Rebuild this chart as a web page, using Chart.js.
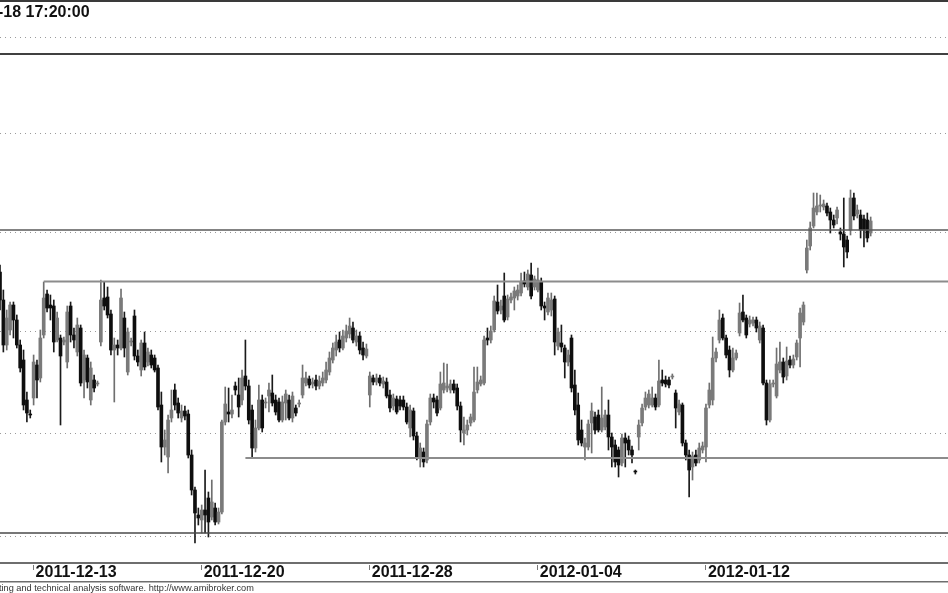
<!DOCTYPE html>
<html>
<head>
<meta charset="utf-8">
<script src="https://cdn.jsdelivr.net/npm/chart.js@4.4.1/dist/chart.umd.min.js"></script>
<style>
  html, body { margin: 0; padding: 0; background: #fff; }
  canvas { display: block; }
</style>
</head>
<body>
<canvas id="priceChart" width="948" height="593"></canvas>
<script>
// trading days (last three are empty future slots on the right)
const tradingDays = [
  '2011-12-12', '2011-12-13', '2011-12-14', '2011-12-15', '2011-12-16',
  '2011-12-19', '2011-12-20', '2011-12-21', '2011-12-22', '2011-12-23',
  '2011-12-27', '2011-12-28', '2011-12-29', '2011-12-30',
  '2012-01-02', '2012-01-03', '2012-01-04', '2012-01-05',
  '2012-01-09', '2012-01-10', '2012-01-11', '2012-01-12', '2012-01-13',
  '2012-01-16', '2012-01-17', '2012-01-18',
  '2012-01-19', '2012-01-20', '2012-01-23'
];
const sessionTimes = ['09:00', '10:00', '11:00', '12:00', '13:00', '14:00', '15:00', '16:00', '17:00', '17:20'];
const slotCount = 283;

const axisDates = ['2011-12-13', '2011-12-20', '2011-12-28', '2012-01-04', '2012-01-12'];
const titleText = '-18 17:20:00';
const footerText = 'ting and technical analysis software. http://www.amibroker.com';

// one row per trading day
const opens = [
  2334, 2320, 2297.5, 2305, 2317.5, 2310, 2297.5, 2290, 2270, 2263,
  2271, 2287.5, 2281, 2302.5, 2323, 2317.5, 2317, 2300, 2301, 2299,
  2289, 2317, 2302.5, 2294, 2306, 2280, 2291, 2270, 2280, 2278,
  2299, 2321, 2321.5, 2313, 2295, 2297.5, 2296, 2311, 2284, 2299,
  2312, 2292, 2285, 2298.5, 2289, 2292.5, 2291, 2286, 2267.5, 2246.5,
  2241.5, 2261, 2275, 2268.5, 2261, 2264.5, 2263, 2242.5, 2225, 2212.5,
  2210, 2215, 2221, 2211.5, 2216, 2209, 2214, 2259, 2264, 2263,
  2277, 2272.5, 2270, 2282, 2277, 2265, 2246, 2256, 2270, 2268.5,
  2272, 2273.5, 2270, 2269, 2260, 2268.5, 2270, 2261, 2266, 2268,
  2272.5, 2278.5, 2280.5, 2278, 2280, 2277, 2278.5, 2280, 2284, 2290,
  2295, 2300, 2296, 2301, 2303, 2306, 2299, 2302, 2296, 2292,
  2272.5, 2281, 2279, 2281, 2278, 2279, 2272.5, 2267, 2270.5, 2270,
  2270, 2266.5, 2256, 2264.5, 2252, 2241, 2244, 2240, 2259, 2271,
  2270, 2266, 2275, 2276, 2275, 2278, 2276, 2267, 2253.5, 2255,
  2258.5, 2260, 2275, 2278, 2278.5, 2301, 2300, 2305, 2319, 2315,
  2322, 2311.5, 2320, 2321, 2322, 2323.5, 2329.5, 2326.5, 2332.5, 2326.5,
  2325, 2329, 2317, 2314, 2315, 2320.5, 2297, 2298.5, 2296, 2289,
  2301, 2277.5, 2267.5, 2255, 2246.5, 2246.5, 2258.5, 2261.5, 2262.5, 2255,
  2256.5, 2262.5, 2251.5, 2247.5, 2245, 2238.5, 2251, 2250, 2245, 2234.5,
  2251.5, 2258.5, 2266.5, 2267.5, 2267.5, 2271, 2267.5, 2280, 2280, 2280,
  2281.5, 2273.5, 2264, 2267.5, 2248.5, 2242.5, 2236.5, 2242.5, 2240, 2245,
  2246.5, 2267.5, 2270, 2291, 2300, 2311, 2301, 2295, 2285, 2291,
  2303.5, 2314, 2311, 2308, 2308.5, 2310, 2300, 2306, 2278.5, 2260,
  2278, 2272, 2285, 2289, 2282, 2290, 2287.5, 2291.5, 2301, 2309,
  2335, 2347, 2357, 2364, 2367, 2366.5, 2367, 2364, 2360, 2361,
  2354, 2353, 2350, 2355, 2371, 2363, 2362.5, 2360.5, 2360, 2353.5
];
const highs = [
  2337.5, 2325, 2315, 2319, 2319, 2312.5, 2300, 2295, 2274, 2265,
  2292.5, 2290, 2305, 2329, 2325, 2322.5, 2320, 2314, 2302.5, 2301.5,
  2317, 2319, 2306, 2311, 2307.5, 2295, 2292.5, 2289, 2282.5, 2279.5,
  2330, 2329, 2326.5, 2315, 2301, 2300, 2325.5, 2314, 2306, 2301,
  2315, 2295, 2300, 2304, 2296, 2295, 2292.5, 2287.5, 2274, 2255,
  2262.5, 2275, 2278, 2271, 2267.5, 2267, 2265, 2245, 2226.5, 2216,
  2217.5, 2235, 2224, 2230, 2218.5, 2216, 2260, 2276.5, 2276, 2272.5,
  2279, 2281, 2285, 2300, 2280, 2267.5, 2260, 2277.5, 2272.5, 2271,
  2278.5, 2282.5, 2272.5, 2271, 2272, 2275, 2272.5, 2274, 2267.5, 2270,
  2287.5, 2284, 2282, 2281, 2282.5, 2282, 2284, 2289, 2294, 2298.5,
  2302.5, 2304, 2305, 2307.5, 2311, 2309, 2305, 2304, 2299, 2298,
  2284, 2282.5, 2283, 2282.5, 2281.5, 2281, 2275, 2273, 2272, 2272,
  2272, 2268.5, 2267.5, 2266, 2254, 2248.5, 2246, 2260, 2273, 2273,
  2272, 2284, 2288.5, 2288, 2280, 2280, 2278, 2269, 2261.5, 2260,
  2263, 2286.5, 2286.5, 2282, 2302, 2306, 2307, 2322, 2327.5, 2320,
  2333.5, 2322.5, 2323.5, 2326.5, 2327.5, 2333.5, 2334, 2335, 2338.5, 2332,
  2336, 2331, 2319, 2323.5, 2323.5, 2322, 2306, 2307.5, 2297.5, 2295,
  2302.5, 2285, 2273.5, 2260, 2251, 2260, 2268.5, 2264, 2265, 2276.5,
  2265, 2270, 2253.5, 2250, 2246.5, 2253, 2253.5, 2252, 2247, 2235,
  2260, 2268, 2274, 2275, 2276.5, 2273, 2290, 2285, 2282, 2281.5,
  2283, 2275, 2270, 2268.5, 2250, 2245, 2244, 2245, 2248.5, 2249,
  2268, 2278.5, 2301.5, 2296, 2315, 2313, 2302.5, 2297, 2296, 2295,
  2318.5, 2322.5, 2312.5, 2312, 2311.5, 2311.5, 2309, 2307.5, 2280, 2280,
  2280, 2296, 2299, 2291, 2296.5, 2292, 2292.5, 2300, 2316, 2319,
  2350, 2359, 2373.5, 2373.5, 2372.5, 2370, 2368.5, 2366, 2362.5, 2366.5,
  2356, 2371, 2352, 2375, 2373.5, 2367.5, 2365, 2362.5, 2363.5, 2361.5
];
const lows = [
  2315, 2294, 2295, 2302.5, 2301, 2296, 2284, 2265, 2259, 2261,
  2267.5, 2271, 2279, 2301, 2314, 2310, 2294, 2299, 2257.5, 2297.5,
  2286, 2299, 2296, 2292, 2277, 2271, 2276, 2267.5, 2274, 2277,
  2297, 2315, 2311, 2292.5, 2269, 2292.5, 2295, 2291.5, 2282.5, 2297,
  2290, 2287, 2282, 2285, 2287, 2286, 2284, 2265, 2239, 2242.5,
  2233.5, 2259, 2265, 2261, 2259, 2260, 2241, 2222.5, 2198.5, 2207.5,
  2203.5, 2203.5, 2201.5, 2210, 2207.5, 2208, 2213, 2257.5, 2259, 2261,
  2272.5, 2261.5, 2267.5, 2275, 2258, 2241, 2244, 2255, 2254, 2266,
  2264, 2267, 2262.5, 2259, 2259, 2260, 2260, 2259, 2262, 2266.5,
  2271, 2277, 2276, 2276, 2275, 2275.5, 2277, 2278.5, 2282.5, 2288.5,
  2292, 2294, 2295, 2299, 2301, 2298.5, 2297, 2293, 2290, 2291,
  2266.5, 2277.5, 2277.5, 2277, 2276, 2271, 2264, 2265, 2263, 2265,
  2265, 2258, 2251.5, 2250, 2240, 2236.5, 2236.5, 2238.5, 2257.5, 2266,
  2262, 2265, 2273.5, 2274, 2273.5, 2273.5, 2265, 2249, 2247.5, 2252.5,
  2257, 2259, 2273.5, 2277, 2277.5, 2297.5, 2298.5, 2304, 2313, 2313,
  2309, 2310, 2318.5, 2315, 2320, 2322, 2326.5, 2325, 2320.5, 2325,
  2324, 2315, 2310, 2312.5, 2312, 2292.5, 2295, 2294, 2281, 2287,
  2274, 2262.5, 2247.5, 2247, 2240, 2245, 2243.5, 2253, 2254, 2254,
  2255, 2245, 2236.5, 2236.5, 2231.5, 2237, 2236.5, 2242.5, 2238.5, 2233,
  2245, 2257, 2265, 2266, 2266.5, 2265, 2266.5, 2277, 2276.5, 2276,
  2280.5, 2256, 2262.5, 2247, 2240, 2221.5, 2230, 2237, 2238.5, 2243.5,
  2239, 2266, 2267.5, 2289, 2298.5, 2300, 2291, 2281.5, 2284, 2290,
  2302, 2309, 2301, 2306.5, 2307, 2304, 2298.5, 2277.5, 2257.5, 2259,
  2276.5, 2271, 2283.5, 2278.5, 2280, 2286, 2286, 2290, 2286.5, 2307.5,
  2333.5, 2345, 2356, 2362.5, 2364, 2365, 2362, 2353.5, 2356, 2358,
  2350, 2336.5, 2341, 2352.5, 2360, 2361, 2351, 2346.5, 2349, 2352
];
const closes = [
  2320, 2297.5, 2311, 2317.5, 2310, 2297.5, 2286, 2267.5, 2263.5, 2262.5,
  2289, 2280, 2301, 2321, 2316, 2316, 2299, 2311, 2292, 2300,
  2314, 2302.5, 2300, 2307.5, 2278.5, 2292.5, 2279, 2286, 2276, 2278.5,
  2320, 2317, 2312.5, 2295, 2297.5, 2296, 2321, 2296, 2304, 2299.5,
  2292, 2289, 2298.5, 2286.5, 2294, 2287.5, 2285, 2266.5, 2246.5, 2250,
  2260, 2265, 2267.5, 2263.5, 2264.5, 2262, 2242.5, 2225, 2213.5, 2211,
  2215, 2212.5, 2209, 2219, 2209, 2214, 2259, 2268, 2263, 2265,
  2275, 2266.5, 2281, 2277, 2260, 2246, 2256, 2270, 2256, 2269,
  2275, 2268.5, 2264, 2260, 2269, 2273, 2261, 2272, 2263.5, 2268.5,
  2281, 2281, 2277.5, 2279, 2277, 2279.5, 2281, 2285, 2291, 2296,
  2299, 2296, 2302, 2304.5, 2307, 2300, 2302, 2295, 2292.5, 2295.5,
  2282, 2279, 2281, 2278.5, 2279.5, 2272, 2266, 2271, 2264, 2267,
  2266.5, 2259, 2265, 2252, 2241.5, 2246, 2239, 2258, 2271, 2269,
  2263.5, 2278, 2278.5, 2277, 2278, 2275, 2267, 2255, 2255, 2257.5,
  2261.5, 2274, 2279, 2280, 2300, 2300, 2304.5, 2319.5, 2314.5, 2317,
  2310, 2320.5, 2321.5, 2324.5, 2325, 2329, 2328, 2333, 2322, 2330.5,
  2330, 2317, 2316, 2321, 2320, 2299, 2304, 2296.5, 2289, 2292.5,
  2276, 2265, 2250, 2248.5, 2248.5, 2258, 2264.5, 2255, 2255, 2261,
  2262.5, 2251.5, 2246.5, 2239, 2237.5, 2251, 2248.5, 2245, 2242.5, 2234,
  2257.5, 2266, 2271, 2273, 2271, 2266.5, 2279.5, 2278.5, 2278, 2277.5,
  2282, 2266, 2268, 2248.5, 2242.5, 2235, 2242, 2238.5, 2246, 2247,
  2266, 2275, 2291, 2294, 2310, 2301, 2292.5, 2285, 2291, 2293.5,
  2313.5, 2310, 2302.5, 2310, 2310, 2306, 2307, 2278.5, 2260, 2278,
  2278.5, 2288, 2289, 2281.5, 2289.5, 2287.5, 2290.5, 2298.5, 2313.5, 2317.5,
  2346, 2356, 2366, 2367, 2367.5, 2368, 2363.5, 2360, 2357.5, 2365,
  2353, 2346.5, 2344, 2371, 2362, 2365, 2355, 2355, 2351, 2359.5
];

// dotted grid levels and drawn support / resistance lines
const gridLevels = [2451.4, 2403.5, 2353.9, 2304.2, 2253.4, 2202];
const lineLevels = [2443, 2355, 2329.2, 2241, 2203.5];
const lineStarts = ['2011-12-12 09:00', '2011-12-12 09:00', '2011-12-13 12:00', '2011-12-21 12:00', '2011-12-12 09:00'];
const lineColors = ['#404040', '#5a5a5a', '#8c8c8c', '#8c8c8c', '#4a4a4a'];
const lineWidths = [2, 1.6, 2, 2, 1.4];

const labels = [];
tradingDays.forEach(d => sessionTimes.forEach(t => labels.push(d + ' ' + t)));
labels.length = slotCount;
const lastLabel = labels[labels.length - 1];

const UP = '#7a7a7a';
const DOWN = '#0e0e0e';
const isUp = i => closes[i] >= opens[i];

const FONT = '"Liberation Sans", Arial, sans-serif';

// frame, title, date strip and footer
const amiFrame = {
  id: 'amiFrame',
  afterDraw(chart) {
    const ctx = chart.ctx;
    const xs = chart.scales.x;
    const w = chart.width;
    ctx.save();
    ctx.fillStyle = '#3a3a3a';
    ctx.fillRect(0, 0, w, 2);

    ctx.fillStyle = '#111';
    ctx.font = 'bold 16px ' + FONT;
    ctx.textBaseline = 'middle';
    ctx.fillText(titleText, -2, 13);

    ctx.fillStyle = '#6e6e6e';
    ctx.fillRect(0, 562, w, 2);
    ctx.fillRect(0, 581, w, 1.5);

    ctx.font = 'bold 16px ' + FONT;
    axisDates.forEach(d => {
      const px = xs.getPixelForValue(labels.indexOf(d + ' ' + sessionTimes[0]));
      ctx.fillStyle = '#777';
      ctx.fillRect(Math.round(px) - 1, 565, 1, 5);
      ctx.fillStyle = '#111';
      ctx.fillText(d, px + 2, 573);
    });

    ctx.fillStyle = '#333';
    ctx.font = '9.2px ' + FONT;
    ctx.fillText(footerText, -1, 588);
    ctx.restore();
  }
};

const lineSets = lineLevels.map((lv, k) => ({
  type: 'line',
  data: [{ x: lineStarts[k], y: lv }, { x: lastLabel, y: lv }],
  borderColor: lineColors[k],
  borderWidth: lineWidths[k],
  pointRadius: 0,
  order: 0
}));

new Chart(document.getElementById('priceChart'), {
  type: 'bar',
  data: {
    labels: labels,
    datasets: [
      {
        data: opens.map((o, i) => [o, closes[i]]),
        backgroundColor: c => isUp(c.dataIndex) ? UP : DOWN,
        barThickness: 3,
        minBarLength: 1,
        grouped: false,
        order: 1
      },
      {
        data: lows.map((l, i) => [l, highs[i]]),
        backgroundColor: c => isUp(c.dataIndex) ? '#6f6f6f' : '#1a1a1a',
        barThickness: 1,
        grouped: false,
        order: 2
      },
      ...lineSets
    ]
  },
  options: {
    responsive: false,
    animation: false,
    devicePixelRatio: 1,
    layout: { padding: { top: 0, bottom: 30, left: 0, right: 0 } },
    plugins: { legend: { display: false }, tooltip: { enabled: false } },
    scales: {
      x: { display: false, offset: false },
      y: {
        min: 2188.5,
        max: 2470,
        afterBuildTicks: axis => { axis.ticks = gridLevels.map(v => ({ value: v })); },
        ticks: { display: false },
        grid: { color: '#9a9a9a', lineWidth: 1, drawTicks: false },
        border: { display: false, dash: [1, 4] }
      }
    }
  },
  plugins: [amiFrame]
});
</script>
</body>
</html>
